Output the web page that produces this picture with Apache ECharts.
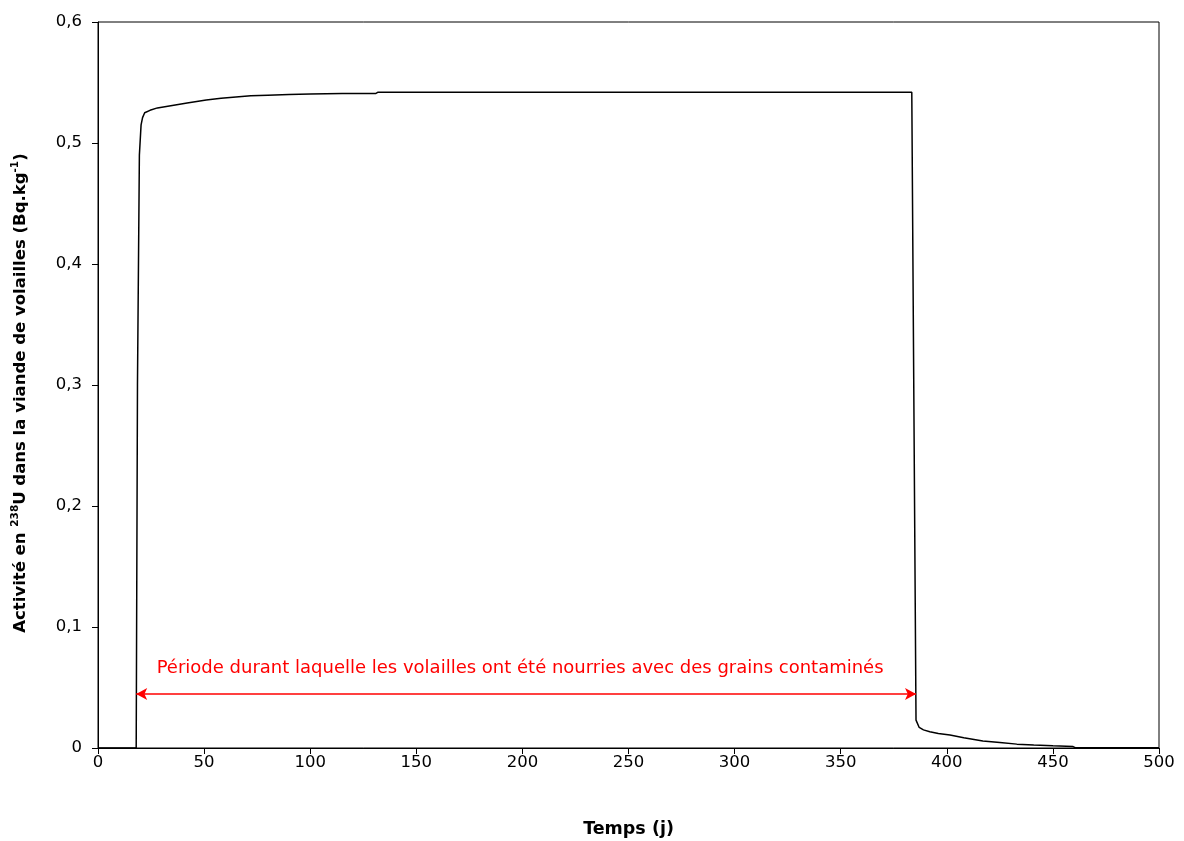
<!DOCTYPE html>
<html><head><meta charset="utf-8">
<script src="https://cdn.jsdelivr.net/npm/echarts@6/dist/echarts.min.js"></script>
<style>html,body{margin:0;padding:0;background:#fff}#c{width:1184px;height:841px}</style>
</head><body><div id="c"></div>
<script>
// Time (days) and activity (Bq/kg)
const days = [0, 18, 18.6, 19.5, 20.3, 21, 22, 24.5, 28, 35, 42, 51, 58, 65, 72, 80, 90, 100, 115, 131, 132, 383.5, 385.5, 387, 389, 392, 396, 401.5, 408, 417, 425, 433, 441, 450, 459.5, 460.5, 500];
const activity = [0, 0, 0.3, 0.49, 0.515, 0.521, 0.525, 0.527, 0.529, 0.531, 0.533, 0.5355, 0.537, 0.538, 0.539, 0.5395, 0.540, 0.5405, 0.541, 0.541, 0.542, 0.542, 0.023, 0.017, 0.015, 0.0135, 0.012, 0.0107, 0.0085, 0.0058, 0.0045, 0.0032, 0.0025, 0.0018, 0.0012, 0.0003, 0.0003];
const periodStart = 18, periodEnd = 385.5, periodLevel = 0.0446;
const periodText = 'Période durant laquelle les volailles ont été nourries avec des grains contaminés';
const xTicks = {min: 0, max: 500, interval: 50};
const yTicks = {min: 0, max: 0.6, interval: 0.1};

const font = 'DejaVu Sans';
const chart = echarts.init(document.getElementById('c'), null, {renderer: 'canvas'});
chart.setOption({
  animation: false,
  grid: {left: 98, top: 22, right: 25, bottom: 93, show: true, borderColor: '#000', borderWidth: 1, outerBoundsMode: 'none', containLabel: false},
  xAxis: {
    type: 'value', min: xTicks.min, max: xTicks.max, interval: xTicks.interval,
    splitLine: {show: false},
    axisLine: {lineStyle: {color: '#000'}},
    axisTick: {show: true, inside: false, length: 6, lineStyle: {color: '#000'}},
    axisLabel: {color: '#000', fontFamily: font, fontSize: 16.5, margin: 6},
    name: 'Temps (j)', nameLocation: 'middle', nameGap: 72,
    nameTextStyle: {color: '#000', fontFamily: font, fontSize: 17.5, fontWeight: 'bold'}
  },
  yAxis: {
    type: 'value', min: yTicks.min, max: yTicks.max, interval: yTicks.interval,
    splitLine: {show: false},
    axisLine: {show: true, lineStyle: {color: '#000'}},
    axisTick: {show: true, inside: false, length: 6, lineStyle: {color: '#000'}},
    axisLabel: {color: '#000', fontFamily: font, fontSize: 16.5, margin: 16,
      formatter: v => v === 0 ? '0' : v.toFixed(1).replace('.', ',')},
    name: 'Activité en {sup|238}U dans la viande de volailles (Bq.kg{sup|-1})',
    nameLocation: 'middle', nameGap: 66, nameRotate: 90,
    nameTextStyle: {color: '#000', fontFamily: font, fontSize: 16.5, fontWeight: 'bold', lineHeight: 22, padding: [0, 16, 0, 0],
      rich: {sup: {fontSize: 10.5, fontWeight: 'bold', fontFamily: font, color: '#000', verticalAlign: 'top', lineHeight: 22, padding: [0, 0, 8, 0]}}}
  },
  series: [{
    type: 'line', showSymbol: false, symbol: 'none',
    data: days.map((d, i) => [d, activity[i]]),
    lineStyle: {color: '#000', width: 1.5},
    markLine: {
      silent: true, symbol: ['arrow', 'arrow'], symbolSize: [9, 11],
      lineStyle: {color: '#ff0000', width: 1.5, type: 'solid'},
      label: {show: true, position: 'middle', formatter: periodText, color: '#ff0000', fontFamily: font, fontSize: 18, distance: 17, padding: [0, 12, 0, 0]},
      data: [[{coord: [periodStart, periodLevel]}, {coord: [periodEnd, periodLevel]}]]
    }
  }]
});
</script></body></html>
